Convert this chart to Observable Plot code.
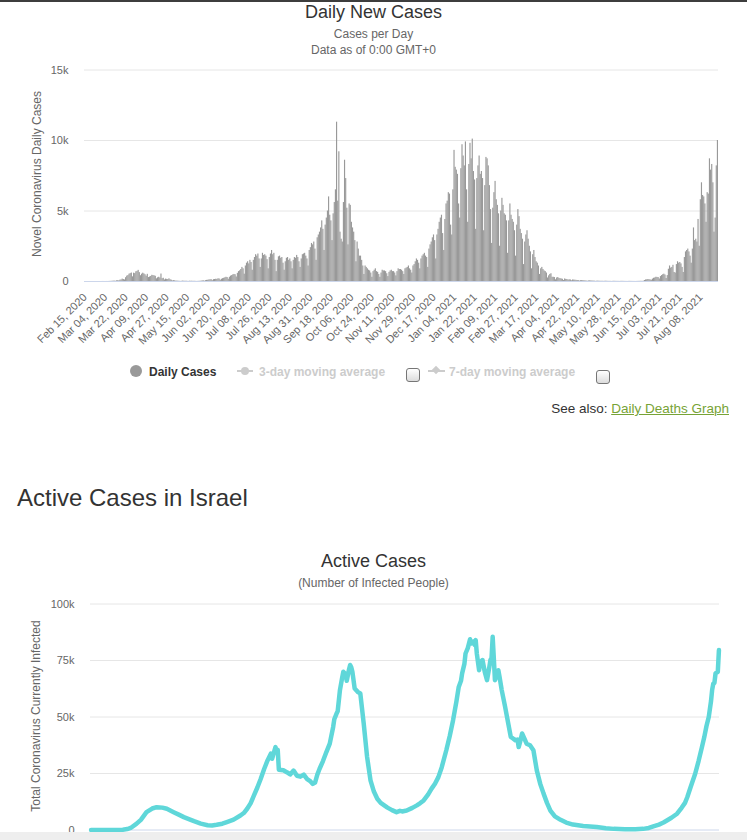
<!DOCTYPE html>
<html><head><meta charset="utf-8">
<script src="https://cdn.jsdelivr.net/npm/d3@7"></script>
<script src="https://cdn.jsdelivr.net/npm/@observablehq/plot@0.6"></script>
<style>
body{margin:0;background:#fff;font-family:"Liberation Sans",Arial,Helvetica,sans-serif;}
#page{position:relative;width:747px;height:840px;overflow:hidden;background:#fff;}
.t{position:absolute;white-space:nowrap;line-height:1;}
.c{transform:translateX(-50%);}
.rot{transform:translate(-50%,-50%) rotate(-90deg);}
.abs{position:absolute;}
svg{position:absolute;left:0;}
</style></head><body><div id="page"></div>
<script>
// ---------- DATA ----------
const firstDay = "2020-02-15";
// Daily new cases, one value per day from Feb 15, 2020 (rows of 7 days)
const dailyCases = [
0,0,0,0,0,0,0,
0,0,0,1,0,0,0,
0,1,3,2,1,3,2,
4,8,11,17,26,30,15,
50,55,45,95,110,170,140,
110,270,380,420,520,560,600,
330,590,560,690,720,790,630,
410,520,590,540,480,380,510,
280,320,360,440,420,400,370,
190,260,300,250,530,200,230,
110,170,150,140,190,120,95,
40,60,50,25,30,20,15,
8,15,30,20,15,20,10,
6,20,15,20,10,15,10,
5,8,12,15,25,40,55,
20,60,80,90,110,120,130,
60,130,140,160,150,190,180,
90,160,200,230,260,300,280,
160,300,380,420,470,500,480,
320,580,700,760,850,1000,900,
520,1100,1300,1400,1250,1500,1350,
800,1500,1700,1900,1800,1950,1600,
1000,1600,2000,1850,1900,1800,1550,
900,1700,1950,2200,1900,2000,1500,
700,1500,1750,1800,1650,1700,1300,
800,1400,1650,1700,1500,1600,1400,
900,1500,1700,1650,1850,1700,1400,
1000,1600,1900,1950,2000,1800,1600,
1100,2200,2400,2700,2600,2800,2300,
1500,3100,3300,3500,3800,4300,3700,
2200,4000,4500,5000,6000,4700,4300,
2900,4800,5600,6500,11300,5700,9200,
3500,3000,2800,5600,8600,7300,5200,
2600,5500,5400,4200,3800,3500,2900,
1400,2800,2300,1800,1800,1500,1100,
500,1100,1000,900,800,750,600,
300,700,800,900,700,650,500,
300,600,800,750,750,700,550,
350,650,750,800,700,700,600,
400,700,900,850,850,800,700,
500,900,950,1000,1100,900,800,
600,1100,1200,1400,1600,1500,1300,
900,1600,1800,1900,2000,1800,1700,
1000,2300,2600,2800,3100,3300,2900,
1600,3300,3700,4200,4500,4700,3400,
2200,4400,5500,5700,6300,6200,4000,
3300,6500,9300,8100,7900,7600,5500,
4500,8000,9700,8900,8200,9900,6500,
4200,8300,9800,8700,10100,7800,7200,
3700,7300,8200,8900,7600,7800,7300,
3600,6800,8800,8700,8200,6800,5100,
2700,5200,6300,7100,5800,5400,4800,
2500,5000,5900,5400,4800,4700,4300,
2000,4300,5500,4700,4400,4200,3600,
1800,4000,5100,4600,3700,3400,3000,
1200,2800,3300,3600,3000,2500,2100,
900,1900,2200,1700,1400,1300,1100,
500,900,1000,850,750,700,600,
250,400,500,550,300,300,280,
120,250,280,220,200,180,160,
70,180,150,140,100,120,110,
50,110,100,90,80,70,60,
30,60,70,60,50,40,30,
20,40,50,40,35,30,25,
10,20,25,20,15,15,15,
10,15,20,15,10,10,10,
5,10,15,12,10,8,8,
5,10,12,10,8,6,5,
3,8,10,8,6,5,4,
3,5,8,10,12,15,10,
20,70,110,120,140,130,110,
90,170,230,250,300,290,280,
180,350,420,480,520,460,210,
420,870,1100,950,1000,1150,640,
600,1200,1400,1300,1350,1250,1000,
640,1700,2100,2200,2300,2100,1800,
1300,2300,3800,2900,3000,2800,4400,
2500,5800,7000,6100,6000,5500,4200,
6300,6200,8700,7900,8300,7000,3500,
4500,8200,10000
];
const xTickLabels = ["Feb 15, 2020","Mar 04, 2020","Mar 22, 2020","Apr 09, 2020","Apr 27, 2020","May 15, 2020","Jun 02, 2020","Jun 20, 2020","Jul 08, 2020","Jul 26, 2020","Aug 13, 2020","Aug 31, 2020","Sep 18, 2020","Oct 06, 2020","Oct 24, 2020","Nov 11, 2020","Nov 29, 2020","Dec 17, 2020","Jan 04, 2021","Jan 22, 2021","Feb 09, 2021","Feb 27, 2021","Mar 17, 2021","Apr 04, 2021","Apr 22, 2021","May 10, 2021","May 28, 2021","Jun 15, 2021","Jul 03, 2021","Jul 21, 2021","Aug 08, 2021"];
const yTicks1 = [0,5000,10000,15000];
const yTicks2 = [0,25000,50000,75000,100000];

// Active cases (read at selected dates)
const activeDates = ["2020-02-15","2020-03-05","2020-03-14","2020-03-18","2020-03-21","2020-03-26","2020-03-30","2020-04-04","2020-04-09","2020-04-13","2020-04-18","2020-04-22","2020-04-28","2020-05-03","2020-05-07","2020-05-12","2020-05-16","2020-05-22","2020-05-28","2020-06-01","2020-06-05","2020-06-10","2020-06-14","2020-06-20","2020-06-26","2020-06-29","2020-07-02","2020-07-05","2020-07-08","2020-07-11","2020-07-14","2020-07-17","2020-07-20","2020-07-23","2020-07-24","2020-07-27","2020-07-28","2020-07-29","2020-07-30","2020-08-03","2020-08-06","2020-08-09","2020-08-12","2020-08-15","2020-08-18","2020-08-21","2020-08-24","2020-08-27","2020-08-29","2020-08-31","2020-09-02","2020-09-04","2020-09-07","2020-09-10","2020-09-13","2020-09-16","2020-09-17","2020-09-19","2020-09-20","2020-09-22","2020-09-24","2020-09-25","2020-09-27","2020-09-28","2020-09-30","2020-10-01","2020-10-02","2020-10-03","2020-10-05","2020-10-08","2020-10-10","2020-10-13","2020-10-16","2020-10-19","2020-10-22","2020-10-25","2020-10-28","2020-11-03","2020-11-07","2020-11-11","2020-11-14","2020-11-16","2020-11-20","2020-11-25","2020-11-29","2020-12-02","2020-12-05","2020-12-09","2020-12-12","2020-12-15","2020-12-18","2020-12-21","2020-12-25","2020-12-28","2020-12-31","2021-01-03","2021-01-05","2021-01-07","2021-01-08","2021-01-10","2021-01-11","2021-01-13","2021-01-15","2021-01-16","2021-01-18","2021-01-19","2021-01-20","2021-01-21","2021-01-23","2021-01-24","2021-01-26","2021-01-28","2021-01-30","2021-02-01","2021-02-02","2021-02-03","2021-02-04","2021-02-05","2021-02-06","2021-02-08","2021-02-09","2021-02-10","2021-02-12","2021-02-15","2021-02-18","2021-02-20","2021-02-22","2021-02-24","2021-02-26","2021-02-27","2021-02-28","2021-03-02","2021-03-04","2021-03-06","2021-03-09","2021-03-12","2021-03-15","2021-03-18","2021-03-21","2021-03-24","2021-03-27","2021-03-31","2021-04-05","2021-04-10","2021-04-16","2021-04-25","2021-05-07","2021-05-15","2021-05-22","2021-06-01","2021-06-10","2021-06-17","2021-06-22","2021-06-26","2021-07-01","2021-07-05","2021-07-08","2021-07-12","2021-07-17","2021-07-21","2021-07-24","2021-07-26","2021-07-29","2021-08-02","2021-08-05","2021-08-08","2021-08-10","2021-08-12","2021-08-14","2021-08-16","2021-08-17","2021-08-18","2021-08-19","2021-08-20","2021-08-22","2021-08-23"];
const activeValues = [0,20,150,420,900,2700,4500,7900,9500,10100,9900,9400,7900,6700,5700,4700,3900,2800,2100,2000,2300,2800,3500,4600,6400,7500,9400,11800,15300,18800,22700,27000,30800,33800,31500,36700,35000,35500,26700,26400,25600,24600,26300,24000,23600,24500,22500,21500,20400,21000,24500,27100,30500,34500,38200,45600,49000,51500,52500,61900,67500,70000,69000,66000,71000,73000,72000,70000,62600,61000,60400,47100,32300,22000,17000,13800,12000,9900,8800,7900,8500,8200,8600,9800,10900,11900,13100,15800,18300,20500,23400,27800,35300,41500,48600,57000,63300,66000,69300,73500,78100,80500,84400,82500,83400,82000,84000,78000,70700,74000,75200,70000,66300,72000,75200,76000,85500,76000,66300,69000,70700,68000,61900,54500,46500,41200,40500,39700,40000,36700,38500,42700,40500,38200,37500,35300,26400,20500,16100,12000,8600,6000,4500,3300,2400,1800,1300,800,500,350,300,500,900,1600,2400,3300,4200,5400,7200,9800,12000,14500,19000,24900,30500,36700,41000,46000,50000,57000,62000,64800,65000,69300,70000,79600];

// ---------- BUILD ----------
const FONT = '"Liberation Sans", Arial, Helvetica, sans-serif';
const page = document.getElementById("page");
const fmtK = d => d === 0 ? "0" : (d/1000) + "k";
const parseDay = d3.utcParse("%Y-%m-%d");
const parseLabel = d3.utcParse("%b %d, %Y");
const start = parseDay(firstDay);
const end = d3.utcDay.offset(start, dailyCases.length);
const bars = dailyCases.map((v,i)=>({x1:d3.utcDay.offset(start,i), x2:d3.utcDay.offset(start,i+1), v}));
const tickDates = xTickLabels.map(s => d3.utcHour.offset(parseLabel(s), 12));
const active = activeDates.map((d,i)=>({date:d3.utcHour.offset(parseDay(d),12), v:activeValues[i]}));

function addText(txt, css){
  const el = document.createElement("div");
  el.className = "t " + (css.cls||"");
  el.textContent = txt;
  Object.assign(el.style, css.style||{});
  page.appendChild(el);
  return el;
}
function addBox(style, html){
  const el = document.createElement("div");
  el.className = "abs";
  Object.assign(el.style, style);
  if (html) el.innerHTML = html;
  page.appendChild(el);
  return el;
}

// top border
addBox({left:"0px", top:"0px", width:"747px", height:"2px", background:"#3d3d3d"});

// Chart 1
const chart1 = Plot.plot({
  width:747, height:370,
  marginLeft:84, marginRight:29, marginTop:69.5, marginBottom:89,
  style:{fontFamily:FONT, fontSize:"11px", color:"#666666", background:"none", overflow:"visible"},
  x:{type:"utc", domain:[start,end]},
  y:{domain:[0,15000]},
  marks:[
    Plot.gridY(yTicks1.slice(1), {stroke:"#e6e6e6", strokeOpacity:1}),
    Plot.rectY(bars, {x1:"x1", x2:"x2", y:"v", fill:"#999999", insetLeft:0, insetRight:0}),
    Plot.ruleY([0], {stroke:"#ccd6eb", strokeWidth:1}),
    Plot.axisY(yTicks1, {tickSize:0, tickPadding:16, tickFormat:fmtK, label:null, fill:"#666666"}),
    Plot.axisX(tickDates, {tickSize:0, tickPadding:14, tickRotate:-45, tickFormat:d3.utcFormat("%b %d, %Y"), label:null, fill:"#666666"})
  ]
});
chart1.style.top = "0px";
page.appendChild(chart1);

addText("Daily New Cases", {cls:"c", style:{left:"373.5px", top:"3px", fontSize:"18px", color:"#333333"}});
addText("Cases per Day", {cls:"c", style:{left:"373.5px", top:"28.3px", fontSize:"12px", color:"#666666"}});
addText("Data as of 0:00 GMT+0", {cls:"c", style:{left:"373.5px", top:"44.3px", fontSize:"12px", color:"#666666"}});
addText("Novel Coronavirus Daily Cases", {cls:"rot", style:{left:"37px", top:"174px", fontSize:"12px", color:"#666666"}});

// legend
addBox({left:"129.5px", top:"365px", width:"12px", height:"12px", borderRadius:"6px", background:"#999999"});
addText("Daily Cases", {style:{left:"149px", top:"366px", fontSize:"12px", fontWeight:"bold", color:"#333333"}});
addBox({left:"237px", top:"370px", width:"16px", height:"2px", background:"#cccccc"});
addBox({left:"241px", top:"367px", width:"8px", height:"8px", borderRadius:"4px", background:"#cccccc"});
addText("3-day moving average", {style:{left:"259px", top:"366px", fontSize:"12px", fontWeight:"bold", color:"#cccccc"}});
addBox({left:"406px", top:"368px", width:"12px", height:"12px", borderRadius:"3px", border:"1px solid #767676", background:"linear-gradient(#ffffff,#dcdcdc)"});
addBox({left:"428px", top:"370px", width:"17px", height:"2px", background:"#cccccc"});
addBox({left:"433px", top:"367px", width:"6px", height:"6px", transform:"rotate(45deg)", background:"#cccccc"});
addText("7-day moving average", {style:{left:"449px", top:"366px", fontSize:"12px", fontWeight:"bold", color:"#cccccc"}});
addBox({left:"596px", top:"369.5px", width:"12px", height:"12px", borderRadius:"3px", border:"1px solid #767676", background:"linear-gradient(#ffffff,#dcdcdc)"});

// see also
const see = addText("", {style:{right:"18px", top:"402px", fontSize:"13.5px", color:"#333333"}});
see.innerHTML = 'See also: <span style="color:#77a336;text-decoration:underline">Daily Deaths Graph</span>';

// Section heading
addText("Active Cases in Israel", {style:{left:"17px", top:"485.7px", fontSize:"24px", color:"#333333"}});

// Chart 2
const chart2 = Plot.plot({
  width:747, height:250,
  marginLeft:90, marginRight:28, marginTop:13.5, marginBottom:10.5,
  style:{fontFamily:FONT, fontSize:"11px", color:"#666666", background:"none", overflow:"visible"},
  x:{type:"utc", domain:[start,end], axis:null},
  y:{domain:[0,100000]},
  marks:[
    Plot.gridY(yTicks2.slice(1), {stroke:"#e6e6e6", strokeOpacity:1}),
    Plot.ruleY([0], {stroke:"#ccd6eb", strokeWidth:1}),
    Plot.axisY(yTicks2, {tickSize:0, tickPadding:16, tickFormat:fmtK, label:null, fill:"#666666"}),
    Plot.lineY(active, {x:"date", y:"v", stroke:"#5fd7d9", strokeWidth:4.5, strokeLinejoin:"round", strokeLinecap:"round"})
  ]
});
chart2.style.top = "590px";
page.appendChild(chart2);

addText("Active Cases", {cls:"c", style:{left:"373.5px", top:"551.5px", fontSize:"18px", color:"#333333"}});
addText("(Number of Infected People)", {cls:"c", style:{left:"373.5px", top:"577.3px", fontSize:"12px", color:"#666666"}});
addText("Total Coronavirus Currently Infected", {cls:"rot", style:{left:"36px", top:"716px", fontSize:"12px", color:"#666666"}});

// bottom browser band
addBox({left:"0px", top:"832px", width:"747px", height:"8px", background:"#eeeeee"});
</script></body></html>
